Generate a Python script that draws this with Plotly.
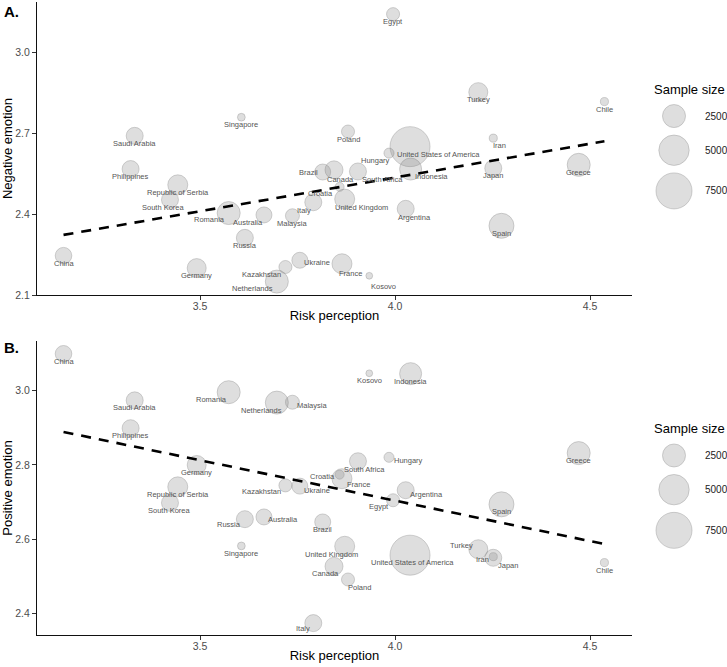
import numpy as np
import plotly.graph_objects as go

# ---------------- data ----------------
countries = ["China", "Saudi Arabia", "Philippines", "Republic of Serbia", "South Korea",
             "Singapore", "Romania", "Australia", "Malaysia", "Russia", "Germany",
             "Kazakhstan", "Netherlands", "Ukraine", "Italy", "Brazil", "Egypt", "Turkey",
             "Chile", "Poland", "Iran", "United States of America", "Hungary", "Indonesia",
             "Canada", "South Africa", "Croatia", "United Kingdom", "Japan", "Greece",
             "Argentina", "Spain", "France", "Kosovo"]
risk = [3.150, 3.3325, 3.322, 3.443, 3.423,
        3.606, 3.5735, 3.664, 3.737, 3.615, 3.4915,
        3.719, 3.697, 3.756, 3.7905, 3.8146, 3.995, 4.2136,
        4.537, 3.8795, 4.252, 4.0385, 3.9846, 4.040,
        3.8436, 3.905, 3.858, 3.871, 4.252, 4.471,
        4.0274, 4.273, 3.864, 3.934]
neg_emotion = [2.246, 2.690, 2.567, 2.5085, 2.453,
               2.759, 2.404, 2.397, 2.394, 2.312, 2.200,
               2.204, 2.150, 2.229, 2.444, 2.556, 3.141, 2.852,
               2.817, 2.706, 2.6815, 2.650, 2.626, 2.567,
               2.564, 2.558, 2.501, 2.4556, 2.570, 2.5826,
               2.4196, 2.3567, 2.216, 2.1715]
pos_emotion = [3.0995, 2.974, 2.899, 2.741, 2.698,
               2.582, 2.996, 2.660, 2.969, 2.654, 2.800,
               2.745, 2.968, 2.743, 2.374, 2.6465, 2.705, 2.573,
               2.537, 2.4915, 2.553, 2.557, 2.8206, 3.046,
               2.527, 2.810, 2.774, 2.581, 2.550, 2.832,
               2.732, 2.694, 2.763, 3.047]
sample_size = [1050, 1125, 1125, 1740, 1125,
               160, 2500, 950, 660, 1125, 1520,
               540, 2500, 950, 1125, 950, 540, 1520,
               170, 540, 170, 9600, 270, 2230,
               1310, 1125, 210, 1740, 1125, 2500,
               1125, 3090, 1740, 140]

trend_neg = [2.323, 2.670]   # fitted line ends
trend_pos = [2.889, 2.587]
legend_sizes = [2500, 5000, 7500]

# ---------------- label nudges (px: right, down) ----------------
off_neg = {"South Korea": (-6, 7.7), "Romania": (-19, 6), "Australia": (-16, 7.3),
           "Italy": (-9, 8.4), "Kazakhstan": (-24, 7), "Netherlands": (-24, 7.3),
           "Ukraine": (17, 2), "France": (8.7, 9.7), "Kosovo": (14, 11),
           "Brazil": (-14, 0.7), "Canada": (6.5, 10), "South Africa": (25, 8.3),
           "Croatia": (-19, 6.3), "United Kingdom": (16.6, 8.7), "Iran": (6.4, 7.7),
           "United States of America": (28.7, 7.6), "Hungary": (-14, 7.7),
           "Indonesia": (21, 7.4), "Argentina": (8.7, 8.3)}
off_pos = {"Romania": (-17, 7.6), "Netherlands": (-15.3, 7.7), "Malaysia": (20, 3.3),
           "Kazakhstan": (-24, 5.7), "Ukraine": (17, 4.3), "Russia": (-16.3, 5),
           "Australia": (19, 2.6), "Croatia": (-16.7, 1.4), "France": (16.3, 5.7),
           "South Africa": (6.8, 8.3), "Hungary": (19.8, 3.3), "Argentina": (21, 4),
           "Egypt": (-14, 6), "United Kingdom": (-13.7, 8.3), "Canada": (-8.5, 7.3),
           "Poland": (11.3, 7.7), "United States of America": (2.5, 7.3),
           "Turkey": (-17.3, -3.3), "Iran": (-10.6, 3.3), "Japan": (15.2, 7.7),
           "Italy": (-10, 5)}
DEFAULT_OFF = (0, 7.6)

# ---------------- size scale (ggplot-like sqrt rescale) ----------------
D_MIN, D_MAX = 6.0, 40.0
N_LO, N_HI = 135.0, 9600.0


def diam(n):
    n = np.asarray(n, dtype=float)
    return D_MIN + (D_MAX - D_MIN) * np.sqrt(np.clip((n - N_LO) / (N_HI - N_LO), 0, 1))


FONT = "Liberation Sans, Arial, sans-serif"
FILL = "rgba(140,140,140,0.40)"
EDGE = "rgba(110,110,110,0.55)"

W, H = 727, 667
ML, MR, MT, MB = 37, 0, 2, 32
PW, PH = W - ML - MR, H - MT - MB
XDOM = [0, 595 / PW]
TOP_DOM = [0.537, 1.0]
BOT_DOM = [0.0, 0.4645]

fig = go.Figure()

panels = [
    ("x", "y", neg_emotion, trend_neg, off_neg),
    ("x2", "y2", pos_emotion, trend_pos, off_pos),
]
annotations = []
d = diam(sample_size)
for xa, ya, yvals, trend, offs in panels:
    fig.add_trace(go.Scatter(
        x=risk, y=yvals, mode="markers", xaxis=xa, yaxis=ya, showlegend=False,
        marker=dict(size=d, sizemode="diameter", color=FILL,
                    line=dict(color=EDGE, width=0.8)),
        hoverinfo="skip"))
    fig.add_trace(go.Scatter(
        x=[min(risk), max(risk)], y=trend, mode="lines", xaxis=xa, yaxis=ya,
        showlegend=False, line=dict(color="black", width=2.6, dash="10px,8px"),
        hoverinfo="skip"))
    for c, xv, yv in zip(countries, risk, yvals):
        dx, dy = offs.get(c, DEFAULT_OFF)
        annotations.append(dict(x=xv, y=yv, xref=xa, yref=ya, text=c, showarrow=False,
                                xshift=dx, yshift=-dy,
                                font=dict(family=FONT, size=7.5, color="#555555")))

# ---------------- size legends ----------------
ld = diam(legend_sizes)
centers = [-32.5]
for i in range(1, len(ld)):
    centers.append(centers[-1] + (ld[i - 1] + ld[i]) / 2 + 7.5)

for lx, ly, dom in [("x3", "y3", TOP_DOM), ("x4", "y4", BOT_DOM)]:
    fig.add_trace(go.Scatter(
        x=[0] * len(legend_sizes), y=centers, mode="markers", xaxis=lx, yaxis=ly,
        showlegend=False, hoverinfo="skip",
        marker=dict(size=ld, sizemode="diameter", color=FILL,
                    line=dict(color=EDGE, width=0.8))))
    annotations.append(dict(x=(652 - ML) / PW, xref="paper", xanchor="left",
                            y=centers[0] - 27, yref=ly, text="Sample size", showarrow=False,
                            font=dict(family=FONT, size=13, color="black")))
    for v, cy in zip(legend_sizes, centers):
        annotations.append(dict(x=(703 - ML) / PW, xref="paper", xanchor="left",
                                y=cy, yref=ly, text=str(v), showarrow=False,
                                font=dict(family=FONT, size=10, color="#222222")))

annotations.append(dict(x=-(ML - 2) / PW, y=(PH + MT - 11) / PH, xref="paper", yref="paper",
                        xanchor="left", yanchor="middle", text="<b>A.</b>", showarrow=False,
                        font=dict(family=FONT, size=15, color="black")))
annotations.append(dict(x=-(ML - 2) / PW, y=(H - MB - 347) / PH, xref="paper", yref="paper",
                        xanchor="left", yanchor="middle", text="<b>B.</b>", showarrow=False,
                        font=dict(family=FONT, size=15, color="black")))

axis_common = dict(showline=True, linecolor="#111111", linewidth=1.2, ticks="outside",
                   ticklen=4, tickcolor="#333333", tickwidth=1, showgrid=False,
                   zeroline=False, tickfont=dict(family=FONT, size=10.5, color="#4d4d4d"),
                   tickformat=".1f", mirror=False)
xr = [3.082, 4.6077]
hidden = dict(visible=False, showgrid=False, zeroline=False, fixedrange=True)

fig.update_layout(
    width=W, height=H, paper_bgcolor="white", plot_bgcolor="white",
    margin=dict(l=ML, r=MR, t=MT, b=MB),
    font=dict(family=FONT),
    xaxis=dict(domain=XDOM, anchor="y", range=xr, tickvals=[3.5, 4.0, 4.5],
               ticklabelstandoff=-3,
               title=dict(text="Risk perception", standoff=0,
                          font=dict(family=FONT, size=13, color="black")), **axis_common),
    yaxis=dict(domain=TOP_DOM, anchor="x", range=[2.1, 3.186], tickvals=[2.1, 2.4, 2.7, 3.0],
               title=dict(text="Negative emotion", standoff=4,
                          font=dict(family=FONT, size=13, color="black")), **axis_common),
    xaxis2=dict(domain=XDOM, anchor="y2", range=xr, tickvals=[3.5, 4.0, 4.5],
                ticklabelstandoff=-3,
                title=dict(text="Risk perception", standoff=0,
                           font=dict(family=FONT, size=13, color="black")), **axis_common),
    yaxis2=dict(domain=BOT_DOM, anchor="x2", range=[2.342, 3.134],
                tickvals=[2.4, 2.6, 2.8, 3.0],
                title=dict(text="Positive emotion", standoff=4,
                           font=dict(family=FONT, size=13, color="black")), **axis_common),
    xaxis3=dict(domain=[0.8732, 0.9732], anchor="y3", range=[-1, 1], **hidden),
    yaxis3=dict(domain=TOP_DOM, anchor="x3",
                range=[PH * (TOP_DOM[1] - TOP_DOM[0]) / 2, -PH * (TOP_DOM[1] - TOP_DOM[0]) / 2],
                **hidden),
    xaxis4=dict(domain=[0.8732, 0.9732], anchor="y4", range=[-1, 1], **hidden),
    yaxis4=dict(domain=BOT_DOM, anchor="x4",
                range=[PH * (BOT_DOM[1] - BOT_DOM[0]) / 2, -PH * (BOT_DOM[1] - BOT_DOM[0]) / 2],
                **hidden),
    annotations=annotations,
)

fig.write_html("out.html", post_script="document.body.style.margin='0';",
               config={"displayModeBar": False})
